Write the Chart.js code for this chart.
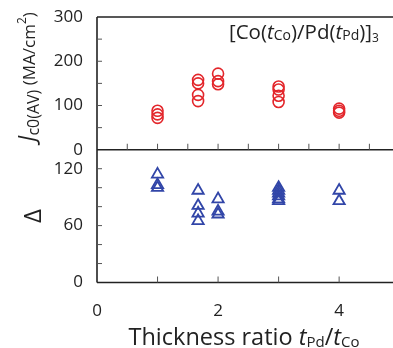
<!DOCTYPE html>
<html>
<head>
<meta charset="utf-8">
<script src="https://cdn.jsdelivr.net/npm/chart.js@4.4.0/dist/chart.umd.min.js"></script>
<style>
  body { margin: 0; background: #fff; }
  #wrap { position: relative; width: 393px; height: 348px; }
</style>
</head>
<body>
<div id="wrap"><canvas id="chart" width="393" height="348"></canvas></div>
<script>
// thickness ratio tPd/tCo for each measured sample
const jcRatio = [1, 1, 1, 1.67, 1.67, 1.67, 1.67, 2, 2, 2, 3, 3, 3, 3, 4, 4, 4];
// Jc0(AV) in MA/cm^2
const jcValues = [88, 80, 72, 158, 150, 124, 110, 172, 155, 148, 143, 136, 122, 108, 93, 88, 84];

const deltaRatio = [1, 1, 1, 1.67, 1.67, 1.67, 1.67, 2, 2, 2, 3, 3, 3, 3, 3, 3, 4, 4];
// thermal stability factor Delta
const deltaValues = [114, 103, 100, 97, 81, 73, 65, 88, 75, 72, 100, 97, 94, 91, 88, 86, 97, 86];

const xTickLabels = [0, 2, 4];
const jcTicks = [0, 100, 200, 300];
const deltaTicks = [0, 60, 120];

const INK = '#222';
const FONT = '"Open Sans", "Noto Sans", sans-serif';

// draw a run of [text, size, italic, dy] pieces left to right, returns width
function drawRuns(ctx, runs, x, y, measureOnly) {
    let cx = x;
    runs.forEach(([txt, size, italic, dy]) => {
        ctx.font = `${italic ? 'italic ' : ''}${size}px ${FONT}`;
        if (!measureOnly) ctx.fillText(txt, cx, y + (dy || 0));
        cx += ctx.measureText(txt).width;
    });
    return cx - x;
}

const framePlugin = {
    id: 'frame',
    afterDraw(chart) {
        const { ctx, chartArea } = chart;
        const x = chart.scales.x, yJ = chart.scales.yJ, yD = chart.scales.yD;
        const left = chartArea.left, right = chartArea.right;
        const mid = yJ.bottom, top = yJ.top, bottom = yD.bottom;
        ctx.save();
        ctx.strokeStyle = INK;
        ctx.lineWidth = 1.6;
        ctx.beginPath();
        ctx.moveTo(left, top); ctx.lineTo(right, top);
        ctx.moveTo(left, mid); ctx.lineTo(right, mid);
        ctx.moveTo(left, bottom); ctx.lineTo(right, bottom);
        ctx.moveTo(left, top); ctx.lineTo(left, bottom);
        ctx.stroke();

        // inner ticks
        ctx.lineWidth = 1;
        ctx.strokeStyle = '#555';
        ctx.beginPath();
        for (let v = 0.5; v < x.max; v += 0.5) {
            const px = x.getPixelForValue(v);
            ctx.moveTo(px, mid); ctx.lineTo(px, mid - 6);
        }
        for (let v = 1; v < x.max; v += 1) {
            const px = x.getPixelForValue(v);
            ctx.moveTo(px, bottom); ctx.lineTo(px, bottom - 6);
        }
        for (let v = 50; v < 300; v += 50) {
            const py = yJ.getPixelForValue(v);
            ctx.moveTo(left, py); ctx.lineTo(left + 5, py);
        }
        for (let v = 20; v < 140; v += 20) {
            const py = yD.getPixelForValue(v);
            ctx.moveTo(left, py); ctx.lineTo(left + 5, py);
        }
        ctx.stroke();

        ctx.fillStyle = INK;
        ctx.textBaseline = 'alphabetic';

        // y title, top panel
        const jRuns = [['J', 23, true, 0], ['c0(AV)', 16, false, 4], [' (MA/cm', 17, false, 0], ['2', 12, false, -9], [')', 17, false, 0]];
        ctx.save();
        ctx.translate(35, 77);
        ctx.rotate(-Math.PI / 2);
        const jw = drawRuns(ctx, jRuns, 0, 0, true);
        drawRuns(ctx, jRuns, -jw / 2, 0);
        ctx.restore();

        // y title, bottom panel
        ctx.save();
        ctx.translate(41, (mid + bottom) / 2);
        ctx.rotate(-Math.PI / 2);
        ctx.font = `24px ${FONT}`;
        ctx.textAlign = 'center';
        ctx.fillText('\u0394', 0, 0);
        ctx.restore();

        // x title
        const xRuns = [['Thickness ratio ', 23.5, false, 0], ['t', 23.5, true, 0], ['Pd', 15, false, 2], ['/', 23.5, false, 0], ['t', 23.5, true, 0], ['Co', 15, false, 2]];
        const xw = drawRuns(ctx, xRuns, 0, 0, true);
        drawRuns(ctx, xRuns, 244 - xw / 2, 345);

        // multilayer label
        const lRuns = [['[Co(', 20.5, false, 0], ['t', 20.5, true, 0], ['Co', 14, false, 1], [')/Pd(', 20.5, false, 0], ['t', 20.5, true, 0], ['Pd', 14, false, 1], [')]', 20.5, false, 0], ['3', 12, false, 3]];
        drawRuns(ctx, lRuns, 229, 39);
        ctx.restore();
    }
};

const yAxisBase = {
    position: 'left',
    stack: 'panels',
    stackWeight: 1,
    border: { display: false },
    grid: { drawOnChartArea: false, drawTicks: false },
    afterFit: (scale) => { scale.width = 97; scale.paddingTop = 0; scale.paddingBottom = 0; },
};

new Chart(document.getElementById('chart'), {
    type: 'scatter',
    data: {
        datasets: [
            {
                label: 'Jc0',
                data: jcRatio.map((r, i) => ({ x: r, y: jcValues[i] })),
                yAxisID: 'yJ',
                pointStyle: 'circle',
                pointRadius: 5.5,
                pointBorderWidth: 1.6,
                borderColor: '#e3262b',
                backgroundColor: 'rgba(0,0,0,0)',
            },
            {
                label: 'Delta',
                data: deltaRatio.map((r, i) => ({ x: r, y: deltaValues[i] })),
                yAxisID: 'yD',
                pointStyle: 'triangle',
                pointRadius: 6.5,
                pointBorderWidth: 1.8,
                borderColor: '#3246a8',
                backgroundColor: 'rgba(0,0,0,0)',
            },
        ],
    },
    options: {
        responsive: false,
        animation: false,
        layout: { autoPadding: false, padding: { top: 17, left: 0, right: 0, bottom: 0 } },
        plugins: { legend: { display: false }, tooltip: { enabled: false } },
        scales: {
            x: {
                type: 'linear',
                min: 0,
                max: 4.89,
                border: { display: false },
                grid: { drawOnChartArea: false, drawTicks: false },
                afterFit: (scale) => { scale.height = 65.5; scale.paddingLeft = 0; scale.paddingRight = 0; },
                afterBuildTicks: (scale) => { scale.ticks = xTickLabels.map(v => ({ value: v })); },
                ticks: { color: INK, font: { size: 17, family: FONT }, padding: 18, autoSkip: false, maxRotation: 0 },
            },
            yD: {
                ...yAxisBase,
                min: 0,
                max: 140,
                afterBuildTicks: (scale) => { scale.ticks = deltaTicks.map(v => ({ value: v })); },
                ticks: { color: INK, font: { size: 17, family: FONT }, padding: 14 },
            },
            yJ: {
                ...yAxisBase,
                min: 0,
                max: 300,
                afterBuildTicks: (scale) => { scale.ticks = jcTicks.map(v => ({ value: v })); },
                ticks: { color: INK, font: { size: 17, family: FONT }, padding: 14 },
            },
        },
    },
    plugins: [framePlugin],
});
</script>
</body>
</html>
